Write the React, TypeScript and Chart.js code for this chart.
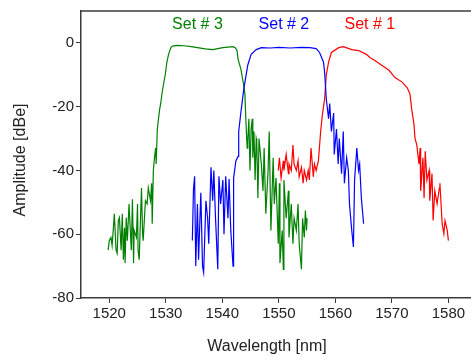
import React, { useEffect, useRef } from "react";
import { Chart, registerables } from "chart.js";

Chart.register(...registerables);

const FONT = "'Liberation Sans', Arial, sans-serif";

// Tick values
const xTicks = [1520, 1530, 1540, 1550, 1560, 1570, 1580];
const yTicks = [-80, -60, -40, -20, 0];

// Series labels and their anchor (data units)
const setNames = ["Set # 1", "Set # 2", "Set # 3"];
const setColors = ["#ff0000", "#0000ff", "#008000"];
const labelX = [1566.1, 1550.9, 1535.6];
const labelY = [6.3, 6.3, 6.3];

// Set # 3 (green)
const set3X = [
  1519.8, 1520.0, 1520.3, 1520.5, 1520.7, 1520.9, 1521.2, 1521.4, 1521.6, 1521.8,
  1522.1, 1522.3, 1522.5, 1522.7, 1522.8, 1523.0, 1523.2, 1523.5, 1523.9, 1524.1,
  1524.3, 1524.4, 1524.8, 1525.0, 1525.1, 1525.3, 1525.7, 1525.9, 1526.0, 1526.4,
  1526.7, 1526.9, 1527.3, 1527.5, 1527.6, 1527.8, 1528.0, 1528.2, 1528.3, 1528.5,
  1528.7, 1528.9, 1529.1, 1529.4, 1529.9, 1530.2, 1530.5, 1530.9, 1531.2, 1532.0,
  1533.2, 1534.5, 1535.6, 1537.0, 1538.3, 1539.2, 1540.1, 1541.0, 1541.9, 1542.3,
  1542.6, 1542.8, 1543.3, 1543.6, 1543.8, 1544.0, 1544.2, 1544.4, 1544.5, 1544.7,
  1544.9, 1545.1, 1545.3, 1545.4, 1545.6, 1545.8, 1546.0, 1546.1, 1546.3, 1546.5,
  1546.9, 1547.2, 1547.4, 1547.7, 1548.1, 1548.3, 1548.6, 1549.0, 1549.2, 1549.5,
  1549.9, 1550.1, 1550.2, 1550.6, 1550.8, 1550.9, 1551.3, 1551.7, 1551.8, 1552.2,
  1552.5, 1552.7, 1553.1, 1553.4, 1553.6, 1554.0, 1554.2, 1554.5, 1554.7, 1554.9, 1555.0,
];
const set3Y = [
  -65, -62, -61, -63.5, -58.8, -53.6, -65, -66, -55.7, -54.8,
  -65, -53.6, -68, -58, -69, -54.8, -62, -50.5, -65, -49,
  -69, -58.8, -61, -50.5, -65, -68, -45.5, -60, -62, -49.5,
  -50.5, -45.5, -49.5, -44, -56.7, -40, -36, -33, -38, -27,
  -24, -21, -19, -15, -10, -6, -3.5, -1.5, -1.0, -0.8,
  -0.9, -1.2, -1.5, -1.9, -2.1, -1.8, -1.5, -1.3, -1.2, -1.5,
  -2.4, -5.2, -8.3, -11.4, -13.3, -16, -25.7, -33, -31, -23.8,
  -40, -27, -23.8, -36, -27.8, -43, -30, -31, -48.6, -30,
  -38, -46.4, -33, -53.6, -40, -27.8, -58.8, -36, -50.5, -42.4,
  -63, -44, -69, -58.8, -71, -43, -55, -46.4, -61, -50.5,
  -63, -55, -58.8, -50.5, -63, -71, -55, -61, -52.6, -58.8, -55,
];

// Set # 2 (blue)
const set2X = [
  1534.7, 1534.9, 1535.1, 1535.3, 1535.6, 1535.8, 1536.2, 1536.5, 1536.7, 1537.1,
  1537.4, 1537.6, 1538.0, 1538.3, 1538.5, 1538.8, 1539.2, 1539.4, 1539.7, 1540.1,
  1540.3, 1540.6, 1541.0, 1541.2, 1541.5, 1541.9, 1542.0, 1542.4, 1542.8, 1542.9,
  1543.3, 1543.8, 1544.5, 1545.1, 1546.0, 1546.9, 1548.5, 1550.0, 1552.0, 1554.0,
  1555.5, 1556.6, 1557.2, 1557.9, 1558.1, 1558.4, 1558.8, 1559.0, 1559.3, 1559.7,
  1559.8, 1560.2, 1560.5, 1560.7, 1561.1, 1561.4, 1561.6, 1562.0, 1562.3, 1562.5,
  1562.9, 1563.2, 1563.4, 1563.8, 1564.1, 1564.3, 1564.6, 1565.0,
];
const set2Y = [
  -62, -46, -41.8, -70, -50.5, -68, -47, -70, -72, -49.5,
  -55, -63, -39, -49.5, -40, -55, -71, -41.8, -50.5, -43,
  -60, -41.8, -55, -42.7, -58.8, -70, -42.4, -37, -35.6, -27.8,
  -21.6, -14.5, -7, -3.6, -2.1, -1.5, -1.6, -1.4, -1.6, -1.4,
  -1.5, -1.8, -3, -6, -9.2, -17.6, -23.8, -19, -27.8, -22,
  -35, -27, -38, -30, -41, -27.8, -44, -36, -40, -50.5,
  -58.8, -64, -43, -33, -40, -38, -48.6, -56.7,
];

// Set # 1 (red)
const set1X = [
  1549.9, 1550.1, 1550.4, 1550.8, 1550.9, 1551.3, 1551.7, 1551.8, 1552.2, 1552.5,
  1552.7, 1553.1, 1553.4, 1553.6, 1554.0, 1554.3, 1554.5, 1554.9, 1555.2, 1555.4,
  1555.7, 1556.1, 1556.3, 1556.6, 1557.0, 1557.4, 1557.7, 1558.1, 1558.4, 1558.8,
  1559.3, 1560.6, 1561.4, 1562.9, 1564.1, 1565.5, 1566.1, 1567.0, 1568.2, 1569.5,
  1570.5, 1571.8, 1572.7, 1573.2, 1573.5, 1573.9, 1574.1, 1574.4, 1574.8, 1575.0,
  1575.1, 1575.5, 1575.7, 1575.9, 1576.2, 1576.6, 1576.7, 1577.1, 1577.3, 1577.6,
  1578.0, 1578.4, 1578.5, 1578.9, 1579.2, 1579.4, 1579.8, 1580.0,
];
const set1Y = [
  -40, -36, -42.4, -37, -40, -35, -41, -38, -40, -32,
  -38, -40, -37, -42, -39, -44, -40, -43, -40, -43,
  -33, -42, -38, -40, -37, -27.8, -22.6, -17.6, -10, -6,
  -3, -1.5, -1.2, -2.1, -2.4, -3.6, -4.6, -5.5, -7, -8.6,
  -10.8, -12.3, -14, -16, -20.7, -25.4, -30, -31.9, -38, -33,
  -46.4, -36, -48.6, -34, -43, -40, -49.5, -41, -55.7, -46.4,
  -50.5, -45.5, -44, -56.7, -59.8, -55.7, -58.8, -62,
];

const toPts = (xs: number[], ys: number[]) => xs.map((x, i) => ({ x, y: ys[i] }));

const AXIS_COLOR = "#3a3a3a";

const decorPlugin = {
  id: "decor",
  beforeDatasetsDraw(chart: any) {
    const { ctx, chartArea } = chart;
    ctx.save();
    ctx.strokeStyle = AXIS_COLOR;
    ctx.lineWidth = 1.5;
    ctx.beginPath();
    ctx.moveTo(chartArea.left, chartArea.top);
    ctx.lineTo(chartArea.right, chartArea.top);
    ctx.stroke();
    ctx.restore();
  },
  afterDatasetsDraw(chart: any) {
    const { ctx } = chart;
    const xs = chart.scales.x;
    const ys = chart.scales.y;
    ctx.save();
    ctx.font = `16px ${FONT}`;
    ctx.textAlign = "center";
    ctx.textBaseline = "alphabetic";
    setNames.forEach((name, i) => {
      ctx.fillStyle = setColors[i];
      ctx.fillText(name, xs.getPixelForValue(labelX[i]), ys.getPixelForValue(labelY[i]) + 6);
    });
    ctx.restore();
  },
  afterDraw(chart: any) {
    const { ctx } = chart;
    ctx.save();
    ctx.fillStyle = "#222";
    ctx.font = `16px ${FONT}`;
    ctx.textAlign = "center";
    ctx.textBaseline = "middle";
    ctx.fillText("Wavelength [nm]", 267, 347);
    ctx.translate(21, 160);
    ctx.rotate(-Math.PI / 2);
    ctx.fillText("Amplitude [dBe]", 0, 0);
    ctx.restore();
  },
};

export default function App() {
  const ref = useRef<HTMLCanvasElement>(null);
  useEffect(() => {
    document.body.style.margin = "0";
    const canvas = ref.current!;
    const ds = (label: string, xs: number[], ys: number[], color: string) => ({
      label,
      data: toPts(xs, ys),
      borderColor: color,
      backgroundColor: color,
      borderWidth: 1.2,
      pointRadius: 0,
      tension: 0,
      fill: false,
    });
    const chart = new Chart(canvas, {
      type: "line",
      data: {
        datasets: [
          ds("Set # 2", set2X, set2Y, "#0000ff"),
          ds("Set # 3", set3X, set3Y, "#008000"),
          ds("Set # 1", set1X, set1Y, "#ff0000"),
        ],
      },
      options: {
        responsive: false,
        animation: false,
        layout: { padding: { top: 8, left: 0, right: 0, bottom: 0 } },
        plugins: { legend: { display: false }, tooltip: { enabled: false } },
        scales: {
          x: {
            type: "linear",
            min: 1515,
            max: 1584,
            afterBuildTicks: (s: any) => {
              s.ticks = xTicks.map((v) => ({ value: v }));
            },
            afterFit: (s: any) => {
              s.height = 64;
            },
            grid: { display: true, drawOnChartArea: false, drawTicks: true, tickLength: 5, color: AXIS_COLOR },
            border: { display: true, color: AXIS_COLOR, width: 1.5 },
            ticks: {
              callback: (v: any) => String(v),
              color: "#222",
              font: { family: FONT, size: 15 },
              padding: 2,
              maxRotation: 0,
              autoSkip: false,
            },
          },
          y: {
            type: "linear",
            min: -80,
            max: 10,
            afterBuildTicks: (s: any) => {
              s.ticks = yTicks.map((v) => ({ value: v }));
            },
            afterFit: (s: any) => {
              s.width = 81;
            },
            grid: { display: true, drawOnChartArea: false, drawTicks: true, tickLength: 5, color: AXIS_COLOR },
            border: { display: true, color: AXIS_COLOR, width: 1.5 },
            ticks: {
              callback: (v: any) => String(v),
              color: "#222",
              font: { family: FONT, size: 15 },
              padding: 2,
              autoSkip: false,
            },
          },
        },
      },
      plugins: [decorPlugin],
    });
    return () => chart.destroy();
  }, []);
  return (
    <div style={{ position: "absolute", left: 0, top: 0, width: 471, height: 362 }}>
      <canvas ref={ref} width={471} height={362} style={{ display: "block" }} />
    </div>
  );
}
